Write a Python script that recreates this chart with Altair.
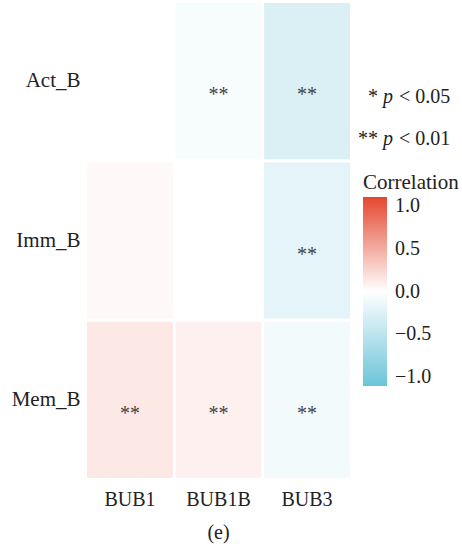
import altair as alt
import pandas as pd

# Correlation cells: immune cell groups (rows) vs. BUB genes (columns)
rows = ["Act_B", "Imm_B", "Mem_B"]
genes = ["BUB1", "BUB1B", "BUB3"]
row_of = ["Act_B", "Act_B", "Imm_B", "Imm_B", "Imm_B", "Mem_B", "Mem_B", "Mem_B"]
gene_of = ["BUB1B", "BUB3", "BUB1", "BUB1B", "BUB3", "BUB1", "BUB1B", "BUB3"]
corr = [-0.06, -0.28, 0.04, 0.0, -0.2, 0.14, 0.09, -0.09]
stars = ["**", "**", "", "", "**", "**", "**", "**"]

df = pd.DataFrame({"row": row_of, "gene": gene_of, "corr": corr, "sig": stars})

FONT = "Times New Roman, Times, DejaVu Serif"
INK = "#222222"

x = alt.X("gene:N", sort=genes, title=None,
          scale=alt.Scale(paddingInner=0.03, paddingOuter=0),
          axis=alt.Axis(labelFontSize=20, labelPadding=11, ticks=False, domain=False,
                        labelAngle=0, labelColor=INK, labelFont=FONT))
y = alt.Y("row:N", sort=rows, title=None,
          scale=alt.Scale(paddingInner=0.02, paddingOuter=0),
          axis=alt.Axis(labelFontSize=21, labelPadding=7, ticks=False, domain=False,
                        labelColor=INK, labelFont=FONT))

color_scale = alt.Scale(domain=[-1.11, 0, 1.11], range=["#6BC4D9", "#FFFFFF", "#E4472F"],
                        interpolate="rgb")

tiles = alt.Chart(df).mark_rect().encode(
    x=x, y=y,
    color=alt.Color("corr:Q", scale=color_scale,
                    legend=alt.Legend(title="Correlation", values=[1, 0.5, 0, -0.5, -1],
                                      format=".1f",
                                      labelExpr="replace(datum.label, '-', '\u2212')",
                                      orient="none", legendX=276, legendY=169,
                                      gradientLength=189, gradientThickness=24,
                                      direction="vertical",
                                      titleFontSize=21, titleFont=FONT, titleFontWeight="normal",
                                      titleColor=INK, titlePadding=4,
                                      labelFontSize=20, labelFont=FONT, labelColor=INK,
                                      labelOffset=8)),
)

marks = alt.Chart(df).mark_text(fontSize=20, font=FONT, color="#444444", dy=14).encode(
    x=x, y=y, text="sig:N"
)

# significance key: asterisks, italic p, threshold
note_left = ["*", "**"]
note_p = ["p", "p"]
note_right = ["< 0.05", "< 0.01"]
note_y = [94, 136]
note_df = pd.DataFrame({"a": note_left, "p": note_p, "b": note_right, "ypos": note_y})

def note_piece(field, xpos, align, style="normal"):
    return alt.Chart(note_df).mark_text(
        fontSize=20, font=FONT, color=INK, align=align, baseline="middle",
        fontStyle=style,
    ).encode(x=alt.value(xpos), y=alt.Y("ypos:Q", scale=None), text=f"{field}:N")

key = (note_piece("a", 291, "right")
       + note_piece("p", 296, "left", "italic")
       + note_piece("b", 312, "left"))

chart = alt.layer(tiles, marks, key).properties(
    width=263, height=475,
    title=alt.Title("(e)", orient="bottom", fontSize=20, font=FONT, fontWeight="normal",
                    color=INK, offset=14, anchor="middle"),
    padding={"left": 87, "top": 3, "right": 112, "bottom": 72},
    autosize=alt.AutoSizeParams(type="none"),
).configure(background="white").configure_view(stroke=None)

chart.save("out.html", embed_options={"renderer": "svg", "actions": False})
